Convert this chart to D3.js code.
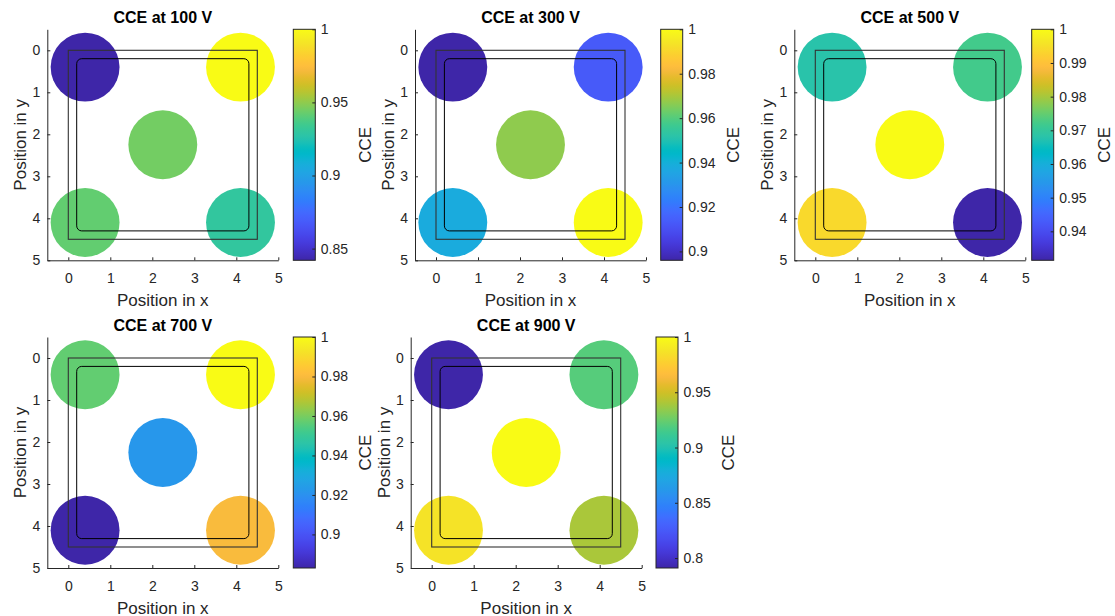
<!DOCTYPE html>
<html>
<head>
<meta charset="utf-8">
<script src="https://cdn.jsdelivr.net/npm/d3@7"></script>
<style>
    body { margin: 0; background: #fff; }
    svg { display: block; font-family: 'Liberation Sans', Arial, sans-serif; }
    .axis text { fill: #262626; font-size: 14px; }
    .axis path, .axis line { stroke: #262626; }
</style>
</head>
<body>
<svg width="1115" height="616"></svg>
<script>
// CCE maps, one panel per bias voltage

const voltages = [100, 300, 500, 700, 900];

// spot centres (same for every panel)
const spotX = [0.4, 4.1, 2.25, 0.4, 4.1];
const spotY = [0.4, 0.4, 2.25, 4.1, 4.1];

// CCE per spot
const cce100 = [0.842, 1.000, 0.945, 0.942, 0.930];
const cce300 = [0.896, 0.913, 0.967, 0.938, 1.000];
const cce500 = [0.968, 0.972, 1.000, 0.994, 0.9314];
const cce700 = [0.957, 1.000, 0.922, 0.883, 0.980];
const cce900 = [0.791, 0.920, 1.000, 0.987, 0.940];

const cbTicks100 = [0.85, 0.9, 0.95, 1];
const cbTicks300 = [0.9, 0.92, 0.94, 0.96, 0.98, 1];
const cbTicks500 = [0.94, 0.95, 0.96, 0.97, 0.98, 0.99, 1];
const cbTicks700 = [0.9, 0.92, 0.94, 0.96, 0.98, 1];
const cbTicks900 = [0.8, 0.85, 0.9, 0.95, 1];

const posTicks = [0, 1, 2, 3, 4, 5];
const outerFrame = [0, 4.5];
const innerFrame = [0.2, 4.3];

// parula(64)
const parula = [
[0.2422,0.1504,0.6603],[0.2504,0.1650,0.7076],[0.2578,0.1818,0.7511],[0.2647,0.1978,0.7952],
[0.2706,0.2147,0.8364],[0.2751,0.2342,0.8710],[0.2783,0.2559,0.8991],[0.2803,0.2782,0.9221],
[0.2813,0.3006,0.9414],[0.2810,0.3228,0.9579],[0.2795,0.3447,0.9717],[0.2760,0.3667,0.9829],
[0.2699,0.3892,0.9906],[0.2602,0.4123,0.9952],[0.2440,0.4358,0.9988],[0.2206,0.4603,0.9973],
[0.1963,0.4847,0.9892],[0.1834,0.5074,0.9798],[0.1786,0.5289,0.9682],[0.1764,0.5499,0.9520],
[0.1687,0.5703,0.9359],[0.1540,0.5902,0.9218],[0.1460,0.6091,0.9079],[0.1380,0.6276,0.8973],
[0.1248,0.6459,0.8883],[0.1113,0.6635,0.8763],[0.0952,0.6798,0.8598],[0.0689,0.6948,0.8394],
[0.0297,0.7082,0.8163],[0.0036,0.7203,0.7917],[0.0067,0.7312,0.7660],[0.0433,0.7411,0.7394],
[0.0964,0.7500,0.7120],[0.1408,0.7584,0.6842],[0.1717,0.7670,0.6554],[0.1938,0.7758,0.6251],
[0.2161,0.7843,0.5923],[0.2470,0.7918,0.5567],[0.2906,0.7973,0.5188],[0.3406,0.8008,0.4789],
[0.3909,0.8029,0.4354],[0.4456,0.8024,0.3909],[0.5044,0.7993,0.3480],[0.5616,0.7942,0.3045],
[0.6174,0.7876,0.2612],[0.6720,0.7793,0.2227],[0.7242,0.7698,0.1910],[0.7738,0.7598,0.1646],
[0.8203,0.7498,0.1535],[0.8634,0.7406,0.1596],[0.9035,0.7330,0.1774],[0.9393,0.7288,0.2100],
[0.9728,0.7298,0.2394],[0.9956,0.7434,0.2371],[0.9970,0.7659,0.2199],[0.9952,0.7893,0.2028],
[0.9892,0.8136,0.1885],[0.9786,0.8386,0.1766],[0.9676,0.8639,0.1643],[0.9610,0.8890,0.1537],
[0.9597,0.9135,0.1423],[0.9628,0.9373,0.1265],[0.9691,0.9606,0.1064],[0.9769,0.9839,0.0805]
].map(function(c) { return d3.rgb(c[0] * 255, c[1] * 255, c[2] * 255).formatHex(); });

const interpParula = d3.piecewise(d3.interpolateRgb, parula);

// panel layout (pixels)
var panels = [
    {vals: cce100, ticks: cbTicks100, left: 47.3, top: 29.3, cbX: 293.3},
    {vals: cce300, ticks: cbTicks300, left: 415,  top: 29.3, cbX: 660.7},
    {vals: cce500, ticks: cbTicks500, left: 794.3, top: 29.3, cbX: 1031.7},
    {vals: cce700, ticks: cbTicks700, left: 47.3, top: 337, cbX: 293.3},
    {vals: cce900, ticks: cbTicks900, left: 410.7, top: 337, cbX: 656}
];

var size = 231,
    cbW = 22,
    spotR = 0.82;

var svg = d3.select('svg');
var defs = svg.append('defs');

var grad = defs.append('linearGradient')
    .attr('id', 'parula')
    .attr('x1', 0).attr('y1', 1).attr('x2', 0).attr('y2', 0);
grad.selectAll('stop')
    .data(parula)
  .enter().append('stop')
    .attr('offset', function(d, i) { return i / (parula.length - 1); })
    .attr('stop-color', function(d) { return d; });

panels.forEach(function(p, k) {
    var g = svg.append('g');

    var x = d3.scaleLinear().domain([-0.5, 5]).range([p.left, p.left + size]);
    var y = d3.scaleLinear().domain([-0.5, 5]).range([p.top, p.top + size]);
    var c = d3.scaleSequential(interpParula).domain(d3.extent(p.vals));
    var cy = d3.scaleLinear().domain(d3.extent(p.vals)).range([p.top + size, p.top]);

    var spots = p.vals.map(function(v, i) { return {x: spotX[i], y: spotY[i], v: v}; });

    g.selectAll('circle.spot')
        .data(spots)
      .enter().append('circle')
        .attr('class', 'spot')
        .attr('cx', function(d) { return x(d.x); })
        .attr('cy', function(d) { return y(d.y); })
        .attr('r', x(spotR) - x(0))
        .style('fill', function(d) { return c(d.v); });

    g.append('rect')
        .attr('x', x(outerFrame[0])).attr('y', y(outerFrame[0]))
        .attr('width', x(outerFrame[1]) - x(outerFrame[0]))
        .attr('height', y(outerFrame[1]) - y(outerFrame[0]))
        .style('fill', 'none').style('stroke', '#333').style('stroke-width', 1.1);

    g.append('rect')
        .attr('x', x(innerFrame[0])).attr('y', y(innerFrame[0]))
        .attr('width', x(innerFrame[1]) - x(innerFrame[0]))
        .attr('height', y(innerFrame[1]) - y(innerFrame[0]))
        .attr('rx', 5).attr('ry', 5)
        .style('fill', 'none').style('stroke', '#000').style('stroke-width', 1);

    g.append('g')
        .attr('class', 'axis')
        .attr('transform', 'translate(0,' + (p.top + size) + ')')
        .call(d3.axisBottom(x).tickValues(posTicks).tickSize(-3).tickSizeOuter(0).tickPadding(13)
            .tickFormat(d3.format('d')));

    g.append('g')
        .attr('class', 'axis')
        .attr('transform', 'translate(' + p.left + ',0)')
        .call(d3.axisLeft(y).tickValues(posTicks).tickSize(-3).tickSizeOuter(0).tickPadding(7)
            .tickFormat(d3.format('d')));

    g.append('text')
        .attr('x', p.left + size / 2)
        .attr('y', p.top - 6.5)
        .attr('text-anchor', 'middle')
        .style('font-size', '16px').style('font-weight', 'bold').style('fill', '#000')
        .text('CCE at ' + voltages[k] + ' V');

    g.append('text')
        .attr('x', p.left + size / 2)
        .attr('y', p.top + size + 45.5)
        .attr('text-anchor', 'middle')
        .style('font-size', '17px').style('fill', '#262626')
        .text('Position in x');

    g.append('text')
        .attr('transform', 'translate(' + (p.left - 21) + ',' + (p.top + size / 2) + ') rotate(-90)')
        .attr('text-anchor', 'middle')
        .style('font-size', '17px').style('fill', '#262626')
        .text('Position in y');

    // colorbar
    g.append('rect')
        .attr('x', p.cbX).attr('y', p.top)
        .attr('width', cbW).attr('height', size)
        .style('fill', 'url(#parula)');

    var cb = g.append('g')
        .attr('class', 'axis')
        .attr('transform', 'translate(' + (p.cbX + cbW) + ',0)')
        .call(d3.axisRight(cy).tickValues(p.ticks).tickSize(-3).tickSizeOuter(0).tickPadding(5.5)
            .tickFormat(function(d) { return String(d); }));
    cb.select('.domain').remove();

    g.append('rect')
        .attr('x', p.cbX).attr('y', p.top)
        .attr('width', cbW).attr('height', size)
        .style('fill', 'none').style('stroke', '#262626').style('stroke-width', 1);

    g.append('text')
        .attr('transform', 'translate(' + (p.cbX + cbW + 56) + ',' + (p.top + size / 2) + ') rotate(-90)')
        .attr('text-anchor', 'middle')
        .style('font-size', '17px').style('fill', '#262626')
        .text('CCE');
});
</script>
</body>
</html>
